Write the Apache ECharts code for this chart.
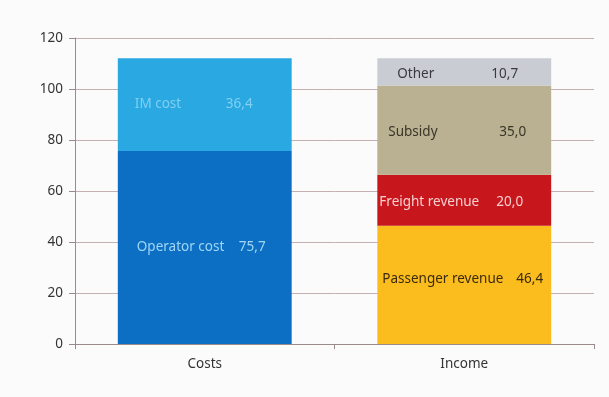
<!DOCTYPE html>
<html><head><meta charset="utf-8">
<script src="https://cdn.jsdelivr.net/npm/echarts@6/dist/echarts.min.js"></script>
<style>html,body{margin:0;padding:0;background:#fbfbfb}#c{width:609px;height:397px}</style>
</head><body><div id="c"></div>
<script>
var categories = ['Costs', 'Income'];
var imCost = [36.4, null];
var operatorCost = [75.7, null];
var passengerRevenue = [null, 46.4];
var freightRevenue = [null, 20.0];
var subsidy = [null, 35.0];
var other = [null, 10.7];
var yTicks = [0, 20, 40, 60, 80, 100, 120];

var FONT = 'Noto Sans';
function fmtNum(v){ return v.toFixed(1).replace('.', ','); }
function mk(name, data, color, textColor, offX, nameW, dy){
  return {
    name: name, type: 'bar', stack: 'total', data: data, barWidth: '67%',
    itemStyle: {color: color},
    label: {
      show: true, position: [offX, '50%'], verticalAlign: 'middle', align: 'left',
      offset: [0, dy || 0],
      formatter: function(p){ return p.value == null ? '' : '{n|' + p.seriesName + '}{v|' + fmtNum(p.value) + '}'; },
      rich: {
        n: {width: nameW, color: textColor, fontFamily: FONT, fontSize: 13.5},
        v: {color: textColor, fontFamily: FONT, fontSize: 13.5}
      }
    }
  };
}
var chart = echarts.init(document.getElementById('c'));
chart.setOption({
  backgroundColor: '#fbfbfb',
  animation: false,
  grid: {left: 75, right: 15, top: 38, bottom: 53},
  xAxis: {
    type: 'category', data: categories,
    axisLine: {lineStyle: {color: '#9a8b8b'}},
    axisTick: {show: true, length: 5, lineStyle: {color: '#9a8b8b'}},
    axisLabel: {color: '#333', fontFamily: FONT, fontSize: 13.5, margin: 13}
  },
  yAxis: {
    type: 'value', min: 0, max: 120, interval: 20,
    axisLine: {show: true, lineStyle: {color: '#9a8b8b'}},
    axisTick: {show: true, length: 6, lineStyle: {color: '#9a8b8b'}},
    splitLine: {lineStyle: {color: '#c4b0b0'}},
    axisLabel: {color: '#333', fontFamily: FONT, fontSize: 13.5, margin: 12,
      formatter: function(v){ return yTicks.indexOf(v) >= 0 ? String(v) : ''; }}
  },
  series: [
    mk('Operator cost', operatorCost, '#0c6fc3', '#9fd6f5', 19, 102, 0),
    mk('IM cost', imCost, '#2aa8e2', '#7fd0f2', 17, 91, 0),
    mk('Passenger revenue', passengerRevenue, '#fbbd1d', '#3a2a10', 5, 134, -6),
    mk('Freight revenue', freightRevenue, '#c8161d', '#f7d0d0', 2, 117, 2),
    mk('Subsidy', subsidy, '#b9b192', '#3a3526', 11, 111, 2),
    mk('Other', other, '#c9ccd3', '#3a3a40', 20, 94, 2)
  ]
});
</script></body></html>
